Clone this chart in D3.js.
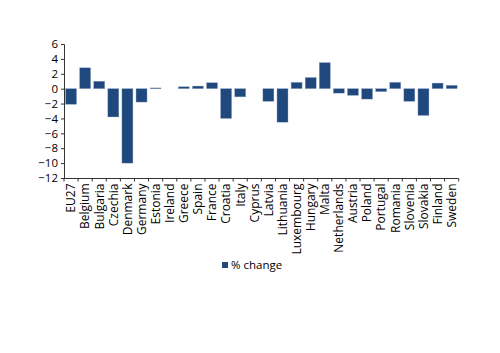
<!DOCTYPE html>
<html lang="en">
<head>
  <meta charset="UTF-8">
  <title>% change by country</title>
  <script src="https://d3js.org/d3.v7.min.js"></script>
  <style>
    body { margin: 0; background: #fff; }
    svg { display: block; }
    text { font-family: "Open Sans", sans-serif; fill: #000; }
  </style>
</head>
<body>
<svg id="chart" width="500" height="353"></svg>
<script>
const countries = ["EU27", "Belgium", "Bulgaria", "Czechia", "Denmark", "Germany", "Estonia", "Ireland",
  "Greece", "Spain", "France", "Croatia", "Italy", "Cyprus", "Latvia", "Lithuania", "Luxembourg",
  "Hungary", "Malta", "Netherlands", "Austria", "Poland", "Portugal", "Romania", "Slovenia",
  "Slovakia", "Finland", "Sweden"];
const change = [-2.1, 2.8, 1.0, -3.8, -10.0, -1.8, 0.1, 0, 0.25, 0.35, 0.8, -4.0, -1.1, 0,
  -1.7, -4.5, 0.85, 1.5, 3.5, -0.6, -0.9, -1.4, -0.4, 0.85, -1.7, -3.6, 0.75, 0.45];
const yTicks = [6, 4, 2, 0, -2, -4, -6, -8, -10, -12];
const seriesName = "% change";
const barColor = "#1f487c";

const svg = d3.select("#chart");

const x = d3.scaleBand().domain(countries).range([64, 458.7]).paddingInner(0.22).paddingOuter(0.11);
const y = d3.scaleLinear().domain([-12, 6]).range([178, 44]);

// bars
svg.append("g")
  .selectAll("rect")
  .data(countries.map((c, i) => ({ c, v: change[i] })).filter(d => d.v !== 0))
  .join("rect")
    .attr("x", d => x(d.c))
    .attr("width", x.bandwidth())
    .attr("y", d => y(Math.max(0, d.v)))
    .attr("height", d => Math.max(0.8, Math.abs(y(d.v) - y(0))))
    .attr("fill", barColor)
    .attr("stroke", "#8fa6c4")
    .attr("stroke-width", 0.4);

// y axis
const yAxis = svg.append("g")
  .attr("transform", "translate(64,0)")
  .call(d3.axisLeft(y).tickValues(yTicks).tickSize(3).tickPadding(3).tickFormat(d3.format("d")));
yAxis.select(".domain").attr("stroke", "#333");
yAxis.selectAll(".tick line").attr("stroke", "#333");
yAxis.selectAll("text").style("font-size", "11.5px").style("font-family", "'Open Sans', sans-serif");

// x axis: line at bottom, ticks between categories
const xAxisY = 178.5;
const xg = svg.append("g");
xg.append("line")
  .attr("x1", 64).attr("x2", 458.7)
  .attr("y1", xAxisY).attr("y2", xAxisY)
  .attr("stroke", "#333");
const step = x.step();
const bounds = d3.range(countries.length + 1).map(i => x(countries[0]) - x.paddingOuter() * step + i * step);
xg.selectAll(".xt")
  .data(bounds)
  .join("line")
    .attr("x1", d => d).attr("x2", d => d)
    .attr("y1", xAxisY).attr("y2", xAxisY + 3)
    .attr("stroke", "#333");
xg.selectAll(".xl")
  .data(countries)
  .join("text")
    .attr("transform", d => `translate(${x(d) + x.bandwidth() / 2 + 4.3},${xAxisY + 5}) rotate(-90)`)
    .attr("text-anchor", "end")
    .style("font-size", "12px")
    .text(d => d);

// legend
const lg = svg.append("g").attr("transform", "translate(222,262)");
lg.append("rect").attr("width", 6).attr("height", 6).attr("fill", barColor);
lg.append("text").attr("x", 9).attr("y", 7).style("font-size", "11.5px").text(seriesName);
</script>
</body>
</html>
